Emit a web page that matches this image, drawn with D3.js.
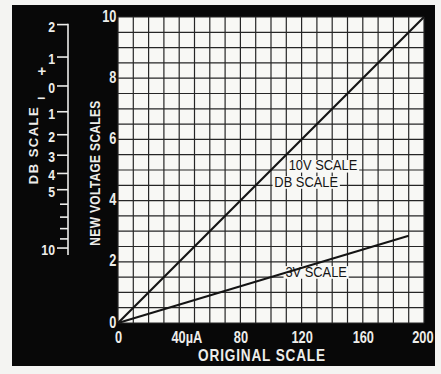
<!DOCTYPE html>
<html>
<head>
<meta charset="utf-8">
<script src="https://cdn.jsdelivr.net/npm/d3@7"></script>
<style>
  html, body { margin: 0; padding: 0; background: #f4f4f2; }
  svg { display: block; }
</style>
</head>
<body>
<svg id="chart" width="441" height="374"></svg>
<script>
// Original meter scale (microamps) and the two new voltage scales
const originalTicks = [0, 40, 80, 120, 160, 200];
const voltageTicks = [0, 2, 4, 6, 8, 10];

// 10 V range: full scale of 200 µA reads 10 V
const scale10V = [[0, 0], [200, 10]];
// 3 V range plotted on the same 0–10 voltage grid
const scale3V = [[0, 0], [190, 2.85]];

// Decibel scale (0 dB = 0.775 V reference, read on the 10 V scale)
const dbTicks = [2, 1, 0, -1, -2, -3, -4, -5, -6, -7, -8, -9, -10];
const dbLabels = [2, 1, 0, -1, -2, -3, -4, -5, -10];
const dbRefVolts = 7.746;

// Annotations inside the grid, placed in data units
const notes = [
  { text: "10V SCALE", x: 134, y: 5.15 },
  { text: "DB SCALE", x: 123, y: 4.62 },
  { text: "3V SCALE", x: 129.5, y: 1.68 }
];

const FONT = "'Liberation Sans', Arial, sans-serif";
const INK = "#141414";
const PAPER = "#f8f8f5";
const CHALK = "#ededea";

// condensed lettering: squeeze text horizontally about its own anchor
function squeeze(sel, k) {
  sel.each(function () {
    const t = d3.select(this);
    const tx = +t.attr("x") || 0, ty = +t.attr("y") || 0;
    t.attr("x", 0).attr("y", 0)
      .attr("transform", `translate(${tx},${ty}) scale(${k},1)`);
  });
}

const svg = d3.select("#chart");

// black card behind everything
svg.append("rect")
  .attr("x", 12).attr("y", 5).attr("width", 423).attr("height", 361)
  .attr("fill", "#080808");

const x = d3.scaleLinear().domain([0, 200]).range([118, 424]);
const y = d3.scaleLinear().domain([0, 10]).range([323, 17]);

// plotting area
svg.append("rect")
  .attr("x", x(0)).attr("y", y(10))
  .attr("width", x(200) - x(0)).attr("height", y(0) - y(10))
  .attr("fill", PAPER);

// grid: 10 µA columns, 0.5 V rows
const grid = svg.append("g").attr("stroke", "#262626").attr("stroke-width", 1.2);
grid.selectAll("line.v").data(d3.range(0, 201, 10)).join("line")
  .attr("class", "v")
  .attr("x1", d => x(d)).attr("x2", d => x(d))
  .attr("y1", y(0)).attr("y2", y(10));
grid.selectAll("line.h").data(d3.range(0, 10.01, 0.5)).join("line")
  .attr("class", "h")
  .attr("x1", x(0)).attr("x2", x(200))
  .attr("y1", d => y(d)).attr("y2", d => y(d));

// annotation labels on white patches
notes.forEach(n => {
  const g = svg.append("g")
    .attr("transform", `translate(${x(n.x)},${y(n.y)}) scale(0.92,1)`);
  const t = g.append("text")
    .attr("text-anchor", "middle").attr("dy", "0.36em")
    .attr("font-family", FONT).attr("font-size", 14).attr("fill", INK)
    .text(n.text);
  const b = t.node().getBBox();
  g.insert("rect", "text")
    .attr("x", b.x - 2).attr("y", b.y + 2)
    .attr("width", b.width + 4).attr("height", b.height - 3)
    .attr("fill", PAPER);
});

// conversion lines
const line = d3.line().x(d => x(d[0])).y(d => y(d[1]));
svg.append("path").datum(scale10V).attr("d", line)
  .attr("fill", "none").attr("stroke", INK).attr("stroke-width", 2.2);
svg.append("path").datum(scale3V).attr("d", line)
  .attr("fill", "none").attr("stroke", INK).attr("stroke-width", 2);

// axes (labels only)
const xAxis = svg.append("g")
  .attr("transform", `translate(0,${y(0)})`)
  .call(d3.axisBottom(x).tickValues(originalTicks).tickSize(0).tickPadding(9)
    .tickFormat(d => d === 40 ? "40µA" : d));
const yAxis = svg.append("g")
  .attr("transform", `translate(${x(0)},0)`)
  .call(d3.axisLeft(y).tickValues(voltageTicks).tickSize(0).tickPadding(2));
[xAxis, yAxis].forEach(g => {
  g.select(".domain").remove();
  g.selectAll("text")
    .attr("fill", CHALK).attr("font-family", FONT)
    .attr("font-size", 16).attr("font-weight", "bold");
});
xAxis.selectAll(".tick").filter(d => d === 40).select("text").attr("dx", 9);
xAxis.selectAll(".tick").filter(d => d === 200).select("text").attr("dx", -2);
yAxis.selectAll(".tick text").attr("dy", "0.25em");
xAxis.selectAll(".tick text").attr("transform", "scale(0.8,1)");
yAxis.selectAll(".tick text").attr("transform", "scale(0.8,1)");

// axis titles
svg.append("text")
  .attr("transform", "translate(262,355) scale(0.85,1)")
  .attr("dy", "0.36em").attr("text-anchor", "middle")
  .attr("fill", CHALK).attr("font-family", FONT)
  .attr("font-size", 16).attr("font-weight", "bold")
  .attr("letter-spacing", 1)
  .text("ORIGINAL SCALE");
svg.append("text")
  .attr("transform", "translate(95,173) rotate(-90) scale(0.8,1)")
  .attr("dy", "0.36em").attr("text-anchor", "middle")
  .attr("fill", CHALK).attr("font-family", FONT)
  .attr("font-size", 15).attr("font-weight", "bold")
  .attr("letter-spacing", 0.4)
  .text("NEW VOLTAGE SCALES");

// decibel scale down the left side
const dbY = db => y(dbRefVolts * Math.pow(10, db / 20));
const dbX = 68;
const dbG = svg.append("g").attr("stroke", CHALK).attr("stroke-width", 1.6);
dbG.append("line")
  .attr("x1", dbX).attr("x2", dbX)
  .attr("y1", dbY(2) - 0.8).attr("y2", dbY(-10) + 7);
dbG.selectAll("line.tick").data(dbTicks).join("line")
  .attr("class", "tick")
  .attr("x1", d => dbLabels.includes(d) ? dbX - 11 : dbX - 8)
  .attr("x2", dbX)
  .attr("y1", d => dbY(d)).attr("y2", d => dbY(d));

svg.append("g")
  .attr("font-family", FONT).attr("font-size", 15).attr("font-weight", "bold")
  .attr("fill", CHALK).attr("text-anchor", "end")
  .selectAll("text").data(dbLabels).join("text")
  .attr("x", 55).attr("y", d => dbY(d) + 2).attr("dy", "0.33em")
  .text(d => Math.abs(d))
  .call(squeeze, 0.82);

// sign marks either side of zero
svg.append("text")
  .attr("x", 42).attr("y", dbY(0) - 15).attr("dy", "0.33em")
  .attr("text-anchor", "middle").attr("fill", CHALK)
  .attr("font-family", FONT).attr("font-size", 15).attr("font-weight", "bold")
  .text("+");
svg.append("text")
  .attr("x", 41).attr("y", dbY(0) + 12).attr("dy", "0.33em")
  .attr("text-anchor", "middle").attr("fill", CHALK)
  .attr("font-family", FONT).attr("font-size", 14).attr("font-weight", "bold")
  .text("−");

svg.append("text")
  .attr("transform", "translate(33,145) rotate(-90)")
  .attr("dy", "0.36em").attr("text-anchor", "middle")
  .attr("fill", CHALK).attr("font-family", FONT)
  .attr("font-size", 13).attr("font-weight", "bold")
  .attr("letter-spacing", 1.5)
  .text("DB SCALE");
</script>
</body>
</html>
